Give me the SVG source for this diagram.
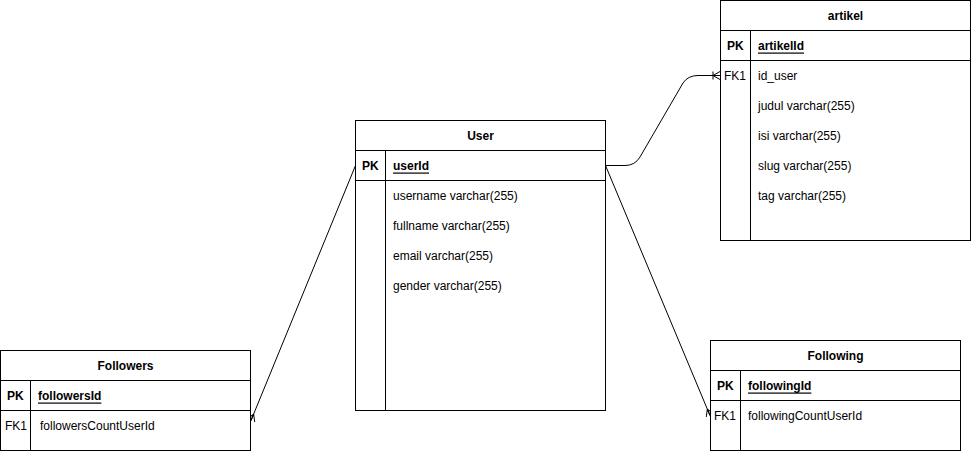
<svg xmlns="http://www.w3.org/2000/svg" width="971" height="451" viewBox="0 0 971 451">
<style>
.box{fill:#fff;stroke:#000;stroke-width:1}
.ln{stroke:#000;stroke-width:1;fill:none}
text{font-family:"Liberation Sans",Arial,sans-serif;font-size:12px;fill:#000;dominant-baseline:central}
.h{font-weight:bold;text-anchor:middle}
.b{font-weight:bold}
.u{font-weight:bold;text-decoration:underline}
.c{stroke:#000;stroke-width:1;fill:none}
</style>
<defs>
<marker id="many" viewBox="0 0 12 12" markerWidth="12" markerHeight="12" refX="11" refY="6" orient="auto" markerUnits="userSpaceOnUse">
<path d="M4,6 L11,2 M4,6 L11,10 M4,6 L11,6" stroke="#000" fill="none"/>
</marker>
<marker id="oneMany" viewBox="0 0 12 12" markerWidth="12" markerHeight="12" refX="11" refY="6" orient="auto" markerUnits="userSpaceOnUse">
<path d="M4,6 L11,2 M4,6 L11,10 M4,6 L11,6 M4,2 L4,10" stroke="#000" fill="none"/>
</marker>
</defs>
<g id="connectors">
<path class="c" d="M605.5,165.5 L625,165.5 Q635,165.5 640,157 L683,83 Q688,75.5 698,75.5 L720,75.5" marker-end="url(#oneMany)"/>
<path class="c" d="M355.5,165.5 L251,420.5" marker-end="url(#many)"/>
<path class="c" d="M605.5,165.5 L710,415.5" marker-end="url(#many)"/>
</g>
<g id="User">
<rect class="box" x="355.5" y="120.5" width="250" height="290"/>
<line class="ln" x1="355.5" y1="150.5" x2="605.5" y2="150.5"/>
<line class="ln" x1="355.5" y1="180.5" x2="605.5" y2="180.5"/>
<line class="ln" x1="385.5" y1="150.5" x2="385.5" y2="410.5"/>
<text class="h" x="480.5" y="135.5">User</text>
<text class="b" x="362" y="165.5">PK</text>
<text class="u" x="393" y="165.5">userId</text>
<text x="393" y="195.5">username varchar(255)</text>
<text x="393" y="225.5">fullname varchar(255)</text>
<text x="393" y="255.5">email varchar(255)</text>
<text x="393" y="285.5">gender varchar(255)</text>
</g>
<g id="artikel">
<rect class="box" x="720.5" y="0.5" width="250" height="240"/>
<line class="ln" x1="720.5" y1="30.5" x2="970.5" y2="30.5"/>
<line class="ln" x1="720.5" y1="60.5" x2="970.5" y2="60.5"/>
<line class="ln" x1="750.5" y1="30.5" x2="750.5" y2="240.5"/>
<text class="h" x="845.5" y="15.5">artikel</text>
<text class="b" x="727" y="45.5">PK</text>
<text class="u" x="758" y="45.5">artikelId</text>
<text x="724" y="75.5">FK1</text>
<text x="758" y="75.5">id_user</text>
<text x="758" y="105.5">judul varchar(255)</text>
<text x="758" y="135.5">isi varchar(255)</text>
<text x="758" y="165.5">slug varchar(255)</text>
<text x="758" y="195.5">tag varchar(255)</text>
</g>
<g id="Followers">
<rect class="box" x="0.5" y="350.5" width="250" height="100"/>
<line class="ln" x1="0.5" y1="380.5" x2="250.5" y2="380.5"/>
<line class="ln" x1="0.5" y1="410.5" x2="250.5" y2="410.5"/>
<line class="ln" x1="30.5" y1="380.5" x2="30.5" y2="450.5"/>
<text class="h" x="125.5" y="365.5">Followers</text>
<text class="b" x="7" y="395.5">PK</text>
<text class="u" x="38" y="395.5">followersId</text>
<text x="5" y="425.5">FK1</text>
<text x="40" y="425.5">followersCountUserId</text>
</g>
<g id="Following">
<rect class="box" x="710.5" y="340.5" width="250" height="110"/>
<line class="ln" x1="710.5" y1="370.5" x2="960.5" y2="370.5"/>
<line class="ln" x1="710.5" y1="400.5" x2="960.5" y2="400.5"/>
<line class="ln" x1="740.5" y1="370.5" x2="740.5" y2="450.5"/>
<text class="h" x="835.5" y="355.5">Following</text>
<text class="b" x="717" y="385.5">PK</text>
<text class="u" x="748" y="385.5">followingId</text>
<text x="714" y="415.5">FK1</text>
<text x="748" y="415.5">followingCountUserId</text>
</g>
</svg>
